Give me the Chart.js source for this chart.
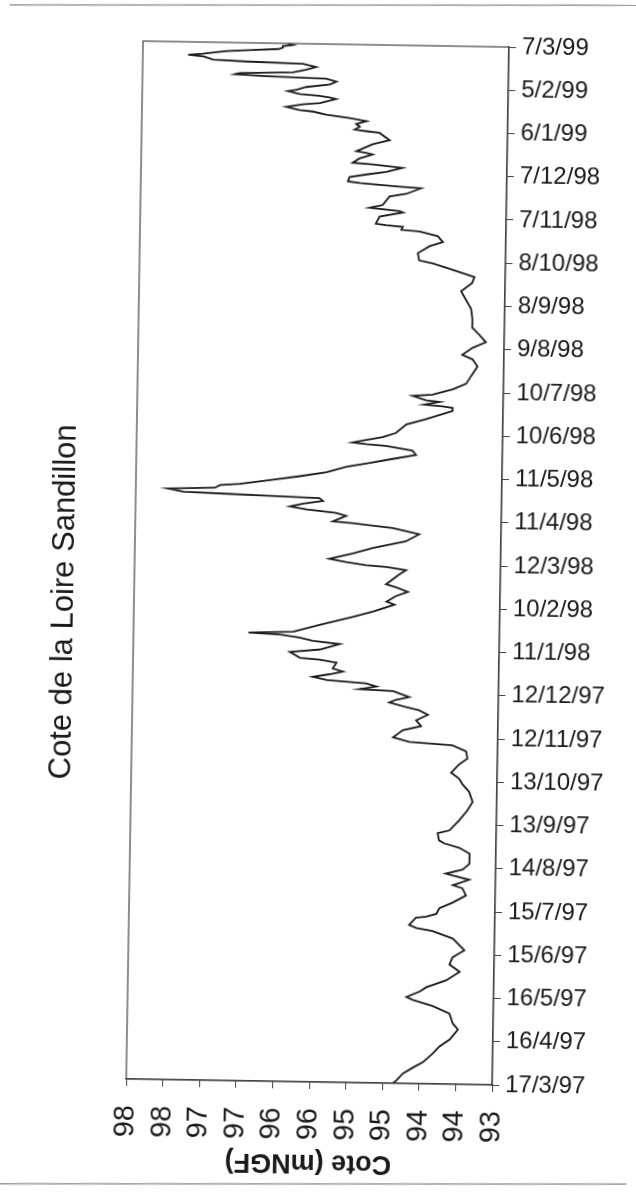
<!DOCTYPE html>
<html>
<head>
<meta charset="utf-8">
<script src="https://cdn.jsdelivr.net/npm/chart.js@4.4.1/dist/chart.umd.min.js"></script>
<style>
  html, body { margin: 0; padding: 0; background: #fff; overflow: hidden; }
  #wrap { width: 636px; height: 1203px; transform: rotate(0.93deg); transform-origin: 318px 601px; }
</style>
</head>
<body>
<div id="wrap"><canvas id="chart" width="636" height="1203"></canvas></div>
<script>
// tick labels on the date axis, one every 30 days
const dateLabels = ['17/3/97', '16/4/97', '16/5/97', '15/6/97', '15/7/97', '14/8/97', '13/9/97',
  '13/10/97', '12/11/97', '12/12/97', '11/1/98', '10/2/98', '12/3/98', '11/4/98', '11/5/98',
  '10/6/98', '10/7/98', '9/8/98', '8/9/98', '8/10/98', '7/11/98', '7/12/98', '6/1/99', '5/2/99', '7/3/99'];

// days after 17/3/97
const days = [0, 2, 7, 11, 15, 21, 26, 31, 38, 42, 49, 54, 58, 60, 64, 67, 72, 78, 83, 88, 93,
  101, 106, 108, 110, 115, 116, 118, 122, 126, 131, 136, 138, 142, 146, 149, 153, 160, 164, 167,
  169, 174, 176, 183, 190, 196, 203, 208, 212, 216, 222, 226, 231, 235, 237, 240, 245, 248, 252,
  256, 259, 261, 264, 266, 268, 272, 273, 275, 277, 279, 281, 283, 285, 287, 291, 293, 294, 298,
  300, 304, 306, 308, 310, 311, 312, 317, 323, 327, 332, 334, 338, 341, 344, 346, 353, 356, 358,
  359, 361, 363, 367, 371, 376, 381, 385, 388, 389, 393, 395, 397, 399, 401, 403, 405, 406, 407,
  408, 410, 411, 413, 414, 417, 420, 423, 427, 430, 433, 436, 439, 442, 443, 444, 446, 448, 451,
  457, 461, 467, 469, 470, 471, 473, 474, 477, 478, 482, 486, 491, 498, 503, 506, 511, 515, 520,
  525, 531, 538, 544, 550, 556, 560, 564, 569, 571, 576, 581, 584, 588, 591, 592, 594, 595, 596,
  601, 604, 605, 607, 609, 615, 617, 621, 622, 624, 625, 628, 630, 632, 635, 637, 638, 641, 644,
  645, 646, 651, 654, 659, 660, 661, 663, 665, 667, 669, 671, 673, 674, 676, 678, 679, 682, 683,
  684, 685, 687, 688, 690, 692, 694, 696, 697, 698, 699, 700, 702, 704, 706, 707, 708, 710, 711,
  712, 714, 715, 716, 717, 718, 719, 720];

// water level (m NGF)
const cote = [94.36, 94.31, 94.22, 94.09, 93.95, 93.82, 93.73, 93.59, 93.48, 93.55, 93.60, 93.83,
  94.10, 94.19, 94.01, 93.92, 93.65, 93.47, 93.61, 93.57, 93.41, 93.57, 93.85, 94.07, 94.17, 94.08,
  93.94, 93.80, 93.76, 93.58, 93.40, 93.45, 93.58, 93.36, 93.68, 93.45, 93.36, 93.36, 93.50, 93.71,
  93.78, 93.80, 93.64, 93.51, 93.40, 93.33, 93.38, 93.47, 93.52, 93.63, 93.52, 93.41, 93.43, 93.62,
  94.21, 94.43, 94.30, 94.05, 94.12, 93.96, 94.08, 94.26, 94.49, 94.40, 94.22, 94.44, 94.90, 94.67,
  94.81, 95.35, 95.54, 95.31, 95.13, 95.27, 95.22, 95.45, 95.72, 95.86, 95.45, 95.18, 95.55, 95.73,
  96.00, 96.43, 95.82, 95.46, 95.01, 94.73, 94.44, 94.55, 94.42, 94.26, 94.42, 94.56, 94.38, 94.29,
  94.56, 94.84, 95.11, 95.34, 95.02, 94.75, 94.30, 94.12, 94.48, 95.03, 95.30, 95.12, 95.26, 95.66,
  95.89, 95.71, 95.44, 95.49, 96.17, 96.76, 97.35, 97.56, 96.92, 96.85, 96.58, 96.17, 95.76, 95.40,
  95.13, 94.81, 94.50, 94.18, 94.23, 94.59, 94.86, 95.05, 94.86, 94.64, 94.46, 94.32, 94.05, 93.69,
  93.69, 93.83, 94.08, 93.87, 94.05, 94.24, 93.97, 93.69, 93.51, 93.45, 93.36, 93.43, 93.57, 93.43,
  93.25, 93.34, 93.44, 93.44, 93.46, 93.53, 93.60, 93.45, 93.42, 93.67, 93.99, 94.18, 94.20, 94.04,
  93.86, 93.93, 94.18, 94.43, 94.41, 94.64, 94.78, 94.73, 94.41, 94.46, 94.87, 94.69, 94.60, 94.37,
  94.17, 94.47, 95.01, 95.17, 95.15, 94.92, 94.65, 94.43, 94.83, 95.11, 95.02, 94.84, 94.93, 95.06,
  94.84, 94.61, 94.75, 94.93, 95.09, 95.02, 95.07, 94.93, 95.16, 95.48, 95.66, 95.85, 96.03, 95.80,
  95.57, 95.35, 95.44, 95.58, 95.85, 96.01, 95.89, 95.76, 95.44, 95.35, 95.49, 96.30, 96.74, 96.67,
  95.95, 95.76, 95.63, 95.81, 96.58, 97.04, 97.17, 97.38, 97.18, 96.86, 96.50, 96.15, 96.09, 96.09,
  95.95, 96.02];

const FONT = 'Arial, "Liberation Sans", sans-serif';
const INK = '#1a1a1a';

// frame, vertical title and upside-down axis title (the scanned page is turned)
const decor = {
  id: 'decor',
  afterDraw(chart) {
    const { ctx, chartArea: a } = chart;
    ctx.save();
    ctx.strokeStyle = '#444';
    ctx.lineWidth = 1.2;
    ctx.strokeRect(a.left, a.top, a.right - a.left, a.bottom - a.top);

    // edges of the scanned sheet, drawn against the page tilt so they come out level
    ctx.strokeStyle = '#9a9a9a';
    ctx.lineWidth = 1.5;
    ctx.beginPath();
    ctx.moveTo(0, 10); ctx.lineTo(636, 0);
    ctx.moveTo(0, 1189); ctx.lineTo(636, 1179);
    ctx.stroke();

    ctx.fillStyle = INK;
    ctx.textAlign = 'center';
    ctx.textBaseline = 'middle';

    ctx.save();
    ctx.translate(64, 606);
    ctx.rotate(-Math.PI / 2);
    ctx.font = '31px ' + FONT;
    ctx.fillText('Cote de la Loire Sandillon', 0, 0);
    ctx.restore();

    ctx.save();
    ctx.translate((a.left + a.right) / 2, 1162);
    ctx.rotate(Math.PI);
    ctx.font = 'bold 27px ' + FONT;
    ctx.fillText('Cote (mNGF)', 0, 0);
    ctx.restore();

    ctx.restore();
  }
};

new Chart(document.getElementById('chart'), {
  type: 'scatter',
  plugins: [decor],
  data: {
    datasets: [{
      data: days.map((d, i) => ({ x: cote[i], y: d })),
      showLine: true,
      borderColor: INK,
      borderWidth: 1.8,
      pointRadius: 0,
      tension: 0
    }]
  },
  options: {
    responsive: false,
    animation: false,
    layout: { padding: { left: 134, top: 44, right: 0, bottom: 0 } },
    plugins: { legend: { display: false }, tooltip: { enabled: false } },
    scales: {
      x: {
        type: 'linear',
        position: 'bottom',
        min: 93,
        max: 98,
        reverse: true,
        afterFit: (s) => { s.height = 121; },
        border: { color: '#444', width: 1.2 },
        grid: { drawOnChartArea: false, tickLength: 7, color: '#444' },
        ticks: {
          stepSize: 0.5,
          maxTicksLimit: 100,
          autoSkip: false,
          minRotation: 90,
          maxRotation: 90,
          padding: 19,
          color: INK,
          font: { family: FONT, size: 29 },
          callback: (v) => Math.round(v)
        }
      },
      y: {
        type: 'linear',
        position: 'right',
        min: 0,
        max: 720,
        afterFit: (s) => { s.width = 136; },
        border: { color: '#444', width: 1.2 },
        grid: { drawOnChartArea: false, tickLength: 7, color: '#444' },
        ticks: {
          stepSize: 30,
          maxTicksLimit: 100,
          autoSkip: false,
          padding: 6,
          color: INK,
          font: { family: FONT, size: 24 },
          callback: (v) => dateLabels[Math.round(v / 30)]
        }
      }
    }
  }
});
</script>
</body>
</html>
